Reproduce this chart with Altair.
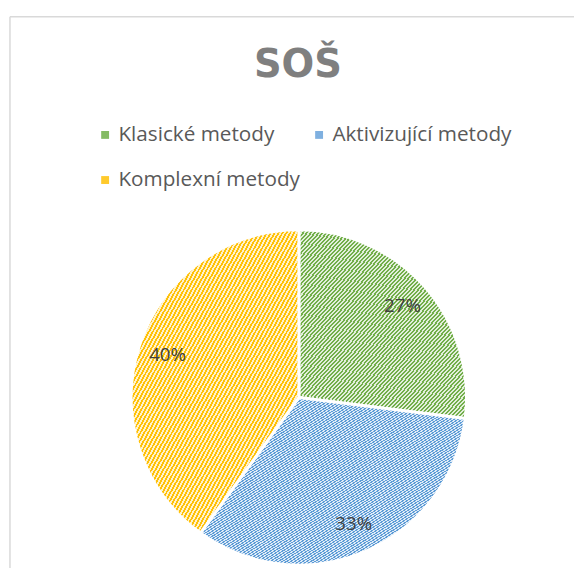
import math
import altair as alt
import pandas as pd

# ---- data ----
categories = ["Klasické metody", "Aktivizující metody", "Komplexní metody"]
values = [27, 33, 40]
labels = ["27%", "33%", "40%"]
# legend entries are laid out column by column (2 columns)
legend_order = ["Klasické metody", "Komplexní metody", "Aktivizující metody"]

# ---- styles ----
legend_colors = {"Klasické metody": "#84bb63", "Aktivizující metody": "#7fb0e0", "Komplexní metody": "#ffca2c"}
stripe_dark = ["#72ae4a", "#5e9cd6", "#ffc108"]
stripe_light = ["#e2efda", "#ddeaf7", "#fff2cc"]
stripe_counts = [85, 130, 85]

CX, CY, R = 295, 391, 170

df = pd.DataFrame({
    "cat": categories,
    "value": values,
    "label": labels,
    "order": list(range(len(categories))),
})

theta_scale = alt.Scale(domain=[0, 100], range=[0, 2 * math.pi])


def stacked(chart):
    return chart.transform_window(
        cum="sum(value)", sort=[alt.SortField("order")], frame=[None, 0]
    ).transform_calculate(
        start="datum.cum - datum.value",
        mid="datum.cum - datum.value / 2",
    )


def hatch(dark, light, n, duty=0.5):
    stops = []
    for i in range(n):
        a = i / n
        b = (i + duty) / n
        c = (i + 1) / n
        stops += [
            alt.GradientStop(color=light, offset=a),
            alt.GradientStop(color=light, offset=b),
            alt.GradientStop(color=dark, offset=b),
            alt.GradientStop(color=dark, offset=c),
        ]
    return alt.LinearGradient(gradient="linear", stops=stops, x1=0, y1=0, x2=1, y2=1)


base = stacked(alt.Chart(df))

flat = base.mark_arc(radius=R, stroke="white", strokeWidth=3).encode(
    theta=alt.Theta("start:Q", scale=theta_scale),
    theta2="cum:Q",
    color=alt.Color(
        "cat:N",
        scale=alt.Scale(domain=legend_order, range=[legend_colors[c] for c in legend_order]),
        legend=alt.Legend(
            title=None,
            orient="none",
            legendX=88,
            legendY=114,
            columns=2,
            columnPadding=8,
            rowPadding=24,
            symbolType="square",
            symbolSize=64,
            symbolStrokeWidth=0,
            labelFont="Open Sans",
            labelFontSize=21,
            labelColor="#595959",
            labelOffset=3,
            labelLimit=400,
            padding=0,
        ),
    ),
    x=alt.value(CX),
    y=alt.value(CY),
)

hatch_layers = []
for i, cat in enumerate(categories):
    layer = base.transform_filter(alt.datum.cat == cat).mark_arc(
        radius=R,
        stroke="white",
        strokeWidth=3,
        fill=hatch(stripe_dark[i], stripe_light[i], stripe_counts[i]),
    ).encode(
        theta=alt.Theta("start:Q", scale=theta_scale),
        theta2="cum:Q",
        x=alt.value(CX),
        y=alt.value(CY),
    )
    hatch_layers.append(layer)

text = base.mark_text(
    radius=140, font="Open Sans", fontSize=19, color="#404040"
).encode(
    theta=alt.Theta("mid:Q", scale=theta_scale),
    text="label:N",
    x=alt.value(CX),
    y=alt.value(CY),
)

frame_df = pd.DataFrame({"k": [0]})
frame_top = alt.Chart(frame_df).mark_rule(color="#d9d9d9", strokeWidth=1.5).encode(
    x=alt.value(2), x2=alt.value(600), y=alt.value(5)
)
frame_left = alt.Chart(frame_df).mark_rule(color="#d9d9d9", strokeWidth=1.5).encode(
    x=alt.value(2), y=alt.value(5), y2=alt.value(600)
)

chart = alt.layer(
    frame_top, frame_left, flat, *hatch_layers, text
).properties(
    width=574,
    height=560,
    autosize=alt.AutoSizeParams(type="none"),
    padding=0,
    title=alt.TitleParams(
        "SOŠ",
        font="DejaVu Sans",
        fontSize=39,
        fontWeight="bold",
        color="#7f7f7f",
        baseline="alphabetic",
        anchor="middle",
        offset=-105,
        dx=7,
    ),
).configure_view(stroke=None)

chart.save("out.html", embed_options={"renderer": "svg", "actions": False})
